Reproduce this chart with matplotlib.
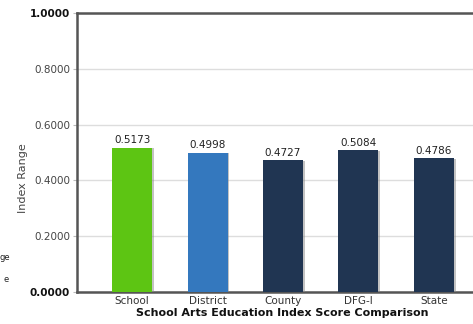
import matplotlib
matplotlib.use("Agg")
import matplotlib.pyplot as plt
import matplotlib.patheffects as pe

categories = ["School", "District", "County", "DFG-I", "State"]
values = [0.5173, 0.4998, 0.4727, 0.5084, 0.4786]
colors = ["#5dc513", "#3478be", "#203552", "#203552", "#203552"]
yticks = [0.0, 0.2, 0.4, 0.6, 0.8, 1.0]
ytick_labels = ["0.0000", "0.2000", "0.4000", "0.6000", "0.8000", "1.0000"]

fig = plt.figure(figsize=(4.73, 3.24), dpi=100)
ax = fig.add_axes([77/473, 32/324, 412/473, 279/324])

x = list(range(len(categories)))
bars = ax.bar(x, values, width=0.53, color=colors, zorder=3,
              edgecolor="none")
for b in bars:
    b.set_path_effects([pe.SimplePatchShadow(offset=(1.2, -0.5), shadow_rgbFace="#888888", alpha=0.5), pe.Normal()])

for xi, v in zip(x, values):
    ax.text(xi, v + 0.008, f"{v:.4f}", ha="center", va="bottom", fontsize=7.5, color="#222222")

ax.set_xlim(-0.73, 4.73)
ax.set_ylim(0, 1.0)
ax.set_yticks(yticks)
ax.set_yticklabels(ytick_labels, fontsize=7.5, color="#444444")
for lbl in ax.get_yticklabels():
    if lbl.get_text() in ("0.0000", "1.0000"):
        lbl.set_fontweight("bold")
        lbl.set_color("#111111")
ax.set_xticks(x)
ax.set_xticklabels(categories, fontsize=7.5, color="#333333")
ax.tick_params(axis="x", length=0, pad=3)
ax.tick_params(axis="y", length=3, color="#bbbbbb", pad=2)

ax.grid(axis="y", color="#dddddd", linewidth=1, zorder=0)
for s in ["left", "bottom", "top"]:
    ax.spines[s].set_color("#555555")
    ax.spines[s].set_linewidth(1.8)
ax.spines["right"].set_visible(False)

fig.text(23/473, 1 - 178/324, "Index Range", rotation=90, ha="center", va="center",
         fontsize=8, color="#444444")
fig.text(282/473, 1 - 313/324, "School Arts Education Index Score Comparison",
         ha="center", va="center", fontsize=8, fontweight="bold", color="#111111")

fig.text(10/473, 1 - 258/324, "ge", ha="right", va="center", fontsize=6, color="#222222")
fig.text(9/473, 1 - 280/324, "e", ha="right", va="center", fontsize=6, color="#222222")

fig.savefig("out.png", dpi=100)
